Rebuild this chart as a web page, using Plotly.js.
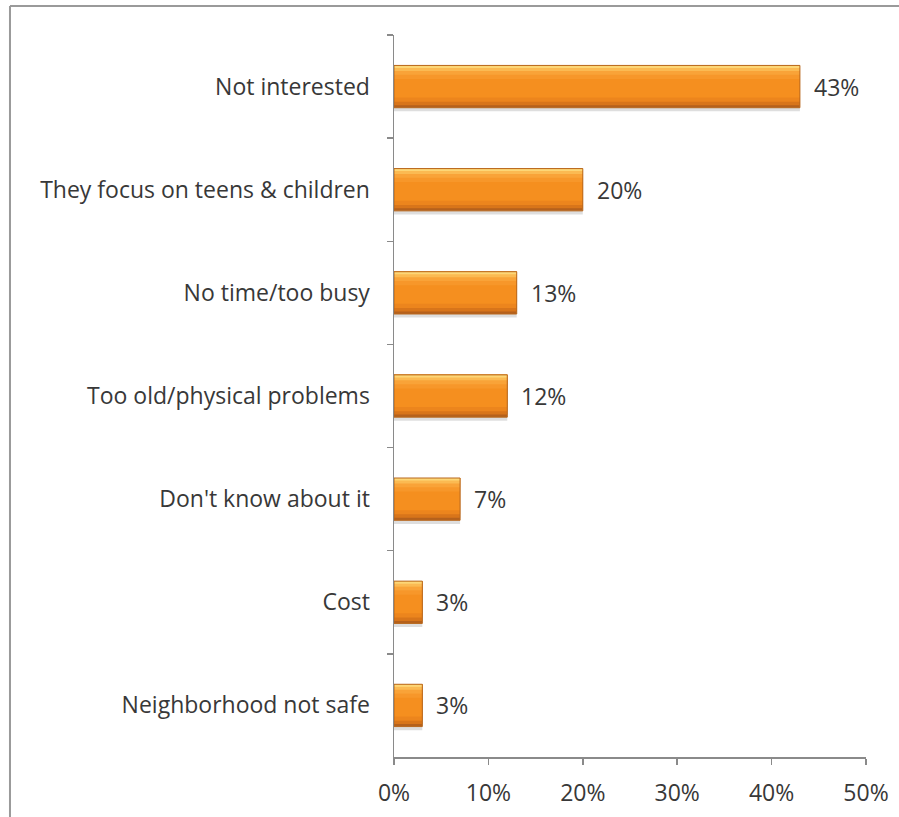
<!DOCTYPE html>
<html>
<head>
<meta charset="utf-8">
<script src="https://cdn.plot.ly/plotly-3.0.1.min.js"></script>
<style>
html,body{margin:0;padding:0;background:#fff;}
#chart{width:899px;height:817px;}
</style>
</head>
<body>
<div id="chart"></div>
<script>
const categories = [
  "Not interested",
  "They focus on teens & children",
  "No time/too busy",
  "Too old/physical problems",
  "Don't know about it",
  "Cost",
  "Neighborhood not safe"
];
const values = [43, 20, 13, 12, 7, 3, 3];
const xTickValues = [0, 10, 20, 30, 40, 50];
const xTickLabels = ["0%", "10%", "20%", "30%", "40%", "50%"];

const labelFont = {family: "Open Sans, DejaVu Sans, sans-serif", size: 23, color: "#383838"};
const barW = 0.41;

// gradient stops (fraction of bar depth from top, colour) - style only
const stops = [
  [1.00, "#B5611C"],
  [0.94, "#D8751A"],
  [0.86, "#EC851D"],
  [0.76, "#F58F1F"],
  [0.32, "#F7972A"],
  [0.22, "#F9A338"],
  [0.13, "#FBBA52"],
  [0.06, "#FDD676"]
];

const traces = [];
// soft shadow
traces.push({type: "bar", orientation: "h", y: categories, x: values,
  width: barW, offset: -barW / 2 + 0.035,
  marker: {color: "rgba(0,0,0,0.13)", line: {width: 0}}, hoverinfo: "skip"});
stops.forEach(([f, c]) => {
  traces.push({type: "bar", orientation: "h", y: categories, x: values,
    width: barW * f, offset: -barW / 2,
    marker: {color: c, line: {width: 0}}, hoverinfo: "skip"});
});
// outline
traces.push({type: "bar", orientation: "h", y: categories, x: values,
  width: barW, offset: -barW / 2,
  marker: {color: "rgba(0,0,0,0)", line: {color: "#B8681E", width: 1}}, hoverinfo: "skip"});

const annotations = values.map((v, i) => ({
  x: v, y: categories[i], xref: "x", yref: "y",
  text: v + "%", showarrow: false, xanchor: "left", xshift: 12,
  font: labelFont
}));

const layout = {
  width: 899, height: 817,
  margin: {l: 394, r: 33, t: 35, b: 60},
  paper_bgcolor: "#fff", plot_bgcolor: "#fff",
  barmode: "overlay",
  showlegend: false,
  xaxis: {
    range: [0, 50], tickvals: xTickValues, ticktext: xTickLabels,
    showgrid: false, zeroline: false,
    showline: true, linecolor: "#8a8a8a", linewidth: 1.5,
    ticks: "outside", ticklen: 6, tickcolor: "#8a8a8a", tickwidth: 1.5,
    tickfont: labelFont, ticklabelstandoff: 9, fixedrange: true
  },
  yaxis: {
    type: "category", autorange: "reversed",
    showgrid: false, zeroline: false,
    showline: true, linecolor: "#8a8a8a", linewidth: 1.5,
    ticks: "outside", ticklen: 6, tickcolor: "#8a8a8a", tickwidth: 1.5,
    tickson: "boundaries",
    tickfont: labelFont, ticklabelstandoff: 18, fixedrange: true
  },
  annotations: annotations,
  shapes: [
    {type: "line", xref: "paper", yref: "paper", x0: -0.8136, x1: 1.2, y0: 1.0402, y1: 1.0402,
     line: {color: "#9a9a9a", width: 2}},
    {type: "line", xref: "paper", yref: "paper", x0: -0.8136, x1: -0.8136, y0: 1.0402, y1: -0.2,
     line: {color: "#9a9a9a", width: 2}}
  ]
};

Plotly.newPlot("chart", traces, layout, {displayModeBar: false, staticPlot: true});
</script>
</body>
</html>
